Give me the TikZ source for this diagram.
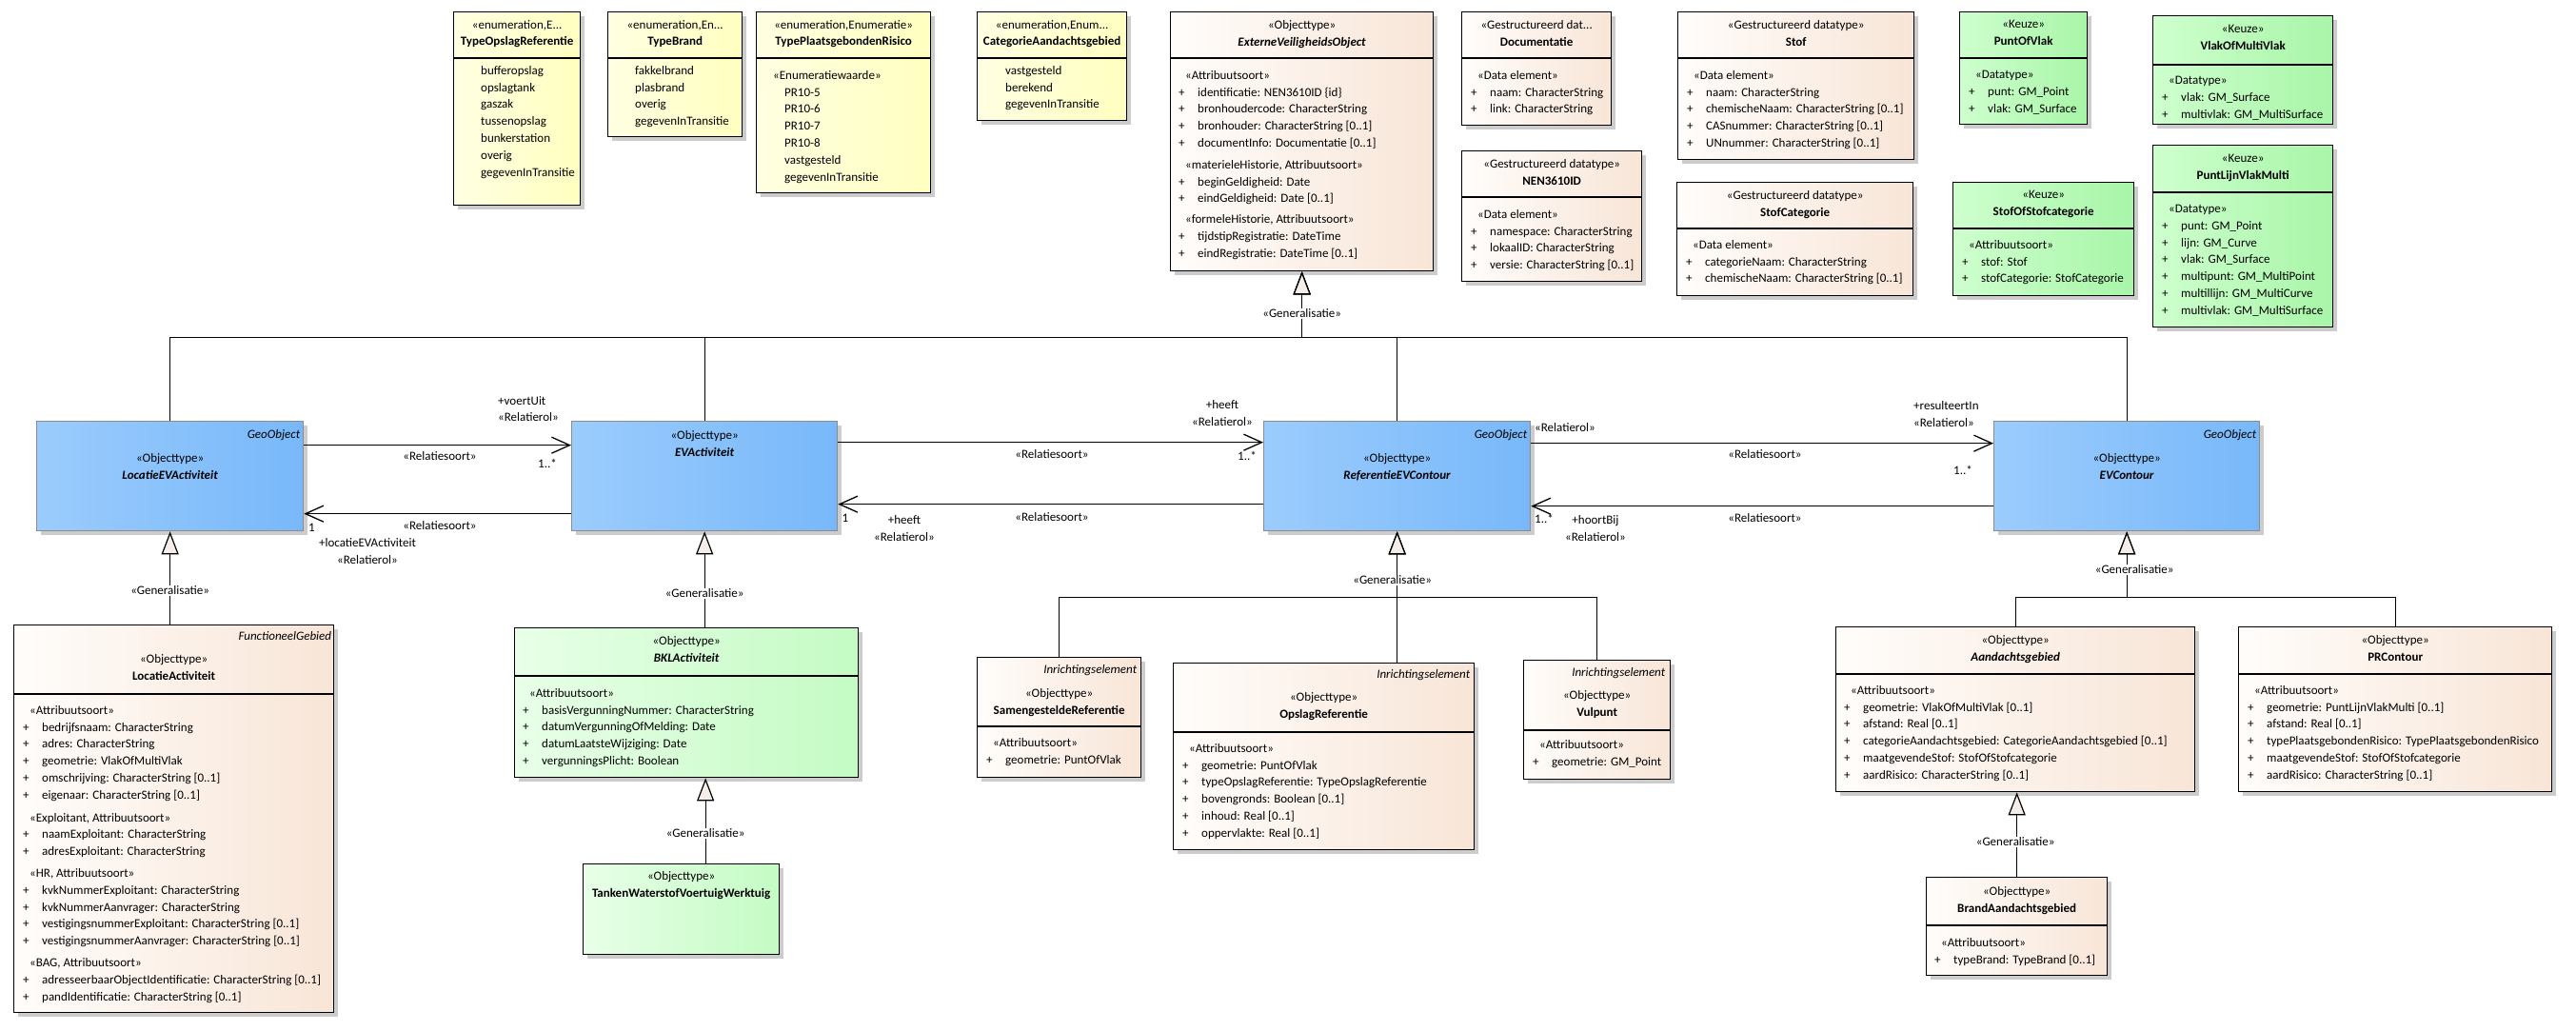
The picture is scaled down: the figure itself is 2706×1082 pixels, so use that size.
\documentclass[tikz,border=0pt]{standalone}
\usepackage{fontspec}
\setmainfont{Carlito}
\usepackage{xcolor}
\usepackage{tikz}
\usetikzlibrary{arrows.meta,positioning,shadows}

\definecolor{enumleft}{RGB}{255,255,226}
\definecolor{enumright}{RGB}{255,255,192}
\definecolor{objleft}{RGB}{255,253,251}
\definecolor{objright}{RGB}{248,229,215}
\definecolor{blueleft}{RGB}{155,204,253}
\definecolor{blueright}{RGB}{120,184,250}
\definecolor{keuzeleft}{RGB}{206,255,206}
\definecolor{keuzeright}{RGB}{168,245,168}
\definecolor{bklleft}{RGB}{232,255,232}
\definecolor{bklright}{RGB}{196,251,196}
\definecolor{genfill}{RGB}{244,237,233}

\newcommand{\umlfont}{\fontsize{13pt}{17.8pt}\selectfont}
\newcommand{\stereo}[1]{\hspace*{7pt}«#1»}
\newcommand{\attr}{\makebox[20pt][l]{+}}

\begin{document}
\begin{tikzpicture}[
    x=1pt, y=-1pt,
    umlbox/.style={rectangle, draw=black, line width=1.3pt, anchor=north west, inner sep=0pt,
        general shadow={fill=black!20, shadow xshift=4pt, shadow yshift=-4pt}},
    boxsize/.style 2 args={minimum width=#1pt, minimum height=#2pt},
    enumbox/.style={umlbox, left color=enumleft, right color=enumright},
    objbox/.style={umlbox, left color=objleft, right color=objright},
    bluebox/.style={umlbox, draw=black!45, left color=blueleft, right color=blueright},
    keuzebox/.style={umlbox, left color=keuzeleft, right color=keuzeright},
    bklbox/.style={umlbox, left color=bklleft, right color=bklright},
    divline/.style={line width=1.3pt},
    txt/.style={font=\umlfont, inner sep=0pt, execute at begin node={\rule{0pt}{11pt}}},
    head/.style={txt, align=center, anchor=north},
    body/.style={txt, align=left, anchor=north west},
    lbl/.style={txt, align=center, anchor=north},
    lbll/.style={txt, align=left, anchor=north west},
    tag/.style={txt, anchor=north east, font=\umlfont\itshape},
    genlbl/.style={font=\umlfont, fill=white, inner sep=1pt},
    rel/.style={-{Straight Barb[length=19pt,width=17pt]}, line width=1.3pt},
    gen/.style={-{Triangle[length=24pt,width=18pt,fill=genfill]}, line width=1.2pt}
]
    \useasboundingbox (0,0) rectangle (2706,1082);

    % enumerations
    \node[enumbox, boxsize={133}{203}] (tor) at (476,12) {};
    \node[head] (torh) at ([yshift=-9pt]tor.north) {«enumeration,E...\\\textbf{TypeOpslagReferentie}};
    \node[body] (torb) at ([shift={(29,57)}]tor.north west) {bufferopslag\\opslagtank\\gaszak\\tussenopslag\\bunkerstation\\overig\\gegevenInTransitie};

    \node[enumbox, boxsize={141}{131}] (tb) at (638,12) {};
    \node[head] (tbh) at ([yshift=-9pt]tb.north) {«enumeration,En...\\\textbf{TypeBrand}};
    \node[body] (tbb) at ([shift={(29,57)}]tb.north west) {fakkelbrand\\plasbrand\\overig\\gegevenInTransitie};

    \node[enumbox, boxsize={183}{190}] (tpr) at (794,12) {};
    \node[head] (tprh) at ([yshift=-9pt]tpr.north) {«enumeration,Enumeratie»\\\textbf{TypePlaatsgebondenRisico}};
    \node[body] (tprb) at ([shift={(18,62)}]tpr.north west) {«Enumeratiewaarde»\\\hspace*{12pt}PR10-5\\\hspace*{12pt}PR10-6\\\hspace*{12pt}PR10-7\\\hspace*{12pt}PR10-8\\\hspace*{12pt}vastgesteld\\\hspace*{12pt}gegevenInTransitie};

    \node[enumbox, boxsize={157}{114}] (cat) at (1026,12) {};
    \node[head] (cath) at ([yshift=-9pt]cat.north) {«enumeration,Enum...\\\textbf{CategorieAandachtsgebied}};
    \node[body] (catb) at ([shift={(30,57)}]cat.north west) {vastgesteld\\berekend\\gegevenInTransitie};

    % ExterneVeiligheidsObject
    \node[objbox, boxsize={276}{272}] (evo) at (1229,12) {};
    \node[head] (evoh) at ([yshift=-9pt]evo.north) {«Objecttype»\\\textbf{\textit{ExterneVeiligheidsObject}}};
    \node[body] (evob) at ([shift={(9,62)}]evo.north west) {\stereo{Attribuutsoort}\\
        \attr identificatie: NEN3610ID \{id\}\\
        \attr bronhoudercode: CharacterString\\
        \attr bronhouder: CharacterString [0..1]\\
        \attr documentInfo: Documentatie [0..1]\\[5pt]
        \stereo{materieleHistorie, Attribuutsoort}\\
        \attr beginGeldigheid: Date\\
        \attr eindGeldigheid: Date [0..1]\\[4pt]
        \stereo{formeleHistorie, Attribuutsoort}\\
        \attr tijdstipRegistratie: DateTime\\
        \attr eindRegistratie: DateTime [0..1]};

    % datatypes
    \node[objbox, boxsize={157}{119}] (doc) at (1535,12) {};
    \node[head] (doch) at ([yshift=-9pt]doc.north) {«Gestructureerd dat...\\\textbf{Documentatie}};
    \node[body] (docb) at ([shift={(10,62)}]doc.north west) {\stereo{Data element}\\\attr naam: CharacterString\\\attr link: CharacterString};

    \node[objbox, boxsize={189}{137}] (nen) at (1535,158) {};
    \node[head] (nenh) at ([yshift=-9pt]nen.north) {«Gestructureerd datatype»\\\textbf{NEN3610ID}};
    \node[body] (nenb) at ([shift={(10,62)}]nen.north west) {\stereo{Data element}\\\attr namespace: CharacterString\\\attr lokaalID: CharacterString\\\attr versie: CharacterString [0..1]};

    \node[objbox, boxsize={248}{155}] (stof) at (1762,12) {};
    \node[head] (stofh) at ([yshift=-9pt]stof.north) {«Gestructureerd datatype»\\\textbf{Stof}};
    \node[body] (stofb) at ([shift={(10,62)}]stof.north west) {\stereo{Data element}\\\attr naam: CharacterString\\\attr chemischeNaam: CharacterString [0..1]\\\attr CASnummer: CharacterString [0..1]\\\attr UNnummer: CharacterString [0..1]};

    \node[objbox, boxsize={248}{119}] (stofcat) at (1761,191) {};
    \node[head] (stofcath) at ([yshift=-9pt]stofcat.north) {«Gestructureerd datatype»\\\textbf{StofCategorie}};
    \node[body] (stofcatb) at ([shift={(10,61)}]stofcat.north west) {\stereo{Data element}\\\attr categorieNaam: CharacterString\\\attr chemischeNaam: CharacterString [0..1]};

    % keuzes
    \node[keuzebox, boxsize={134}{118}] (pov) at (2058,12) {};
    \node[head] (povh) at ([yshift=-9pt]pov.north) {«Keuze»\\\textbf{PuntOfVlak}};
    \node[body] (povb) at ([shift={(10,62)}]pov.north west) {\stereo{Datatype}\\\attr punt: GM\_Point\\\attr vlak: GM\_Surface};

    \node[keuzebox, boxsize={189}{114}] (vomv) at (2261,16) {};
    \node[head] (vomvh) at ([yshift=-10pt]vomv.north) {«Keuze»\\\textbf{VlakOfMultiVlak}};
    \node[body] (vomvb) at ([shift={(10,64)}]vomv.north west) {\stereo{Datatype}\\\attr vlak: GM\_Surface\\\attr multivlak: GM\_MultiSurface};

    \node[keuzebox, boxsize={190}{119}] (sos) at (2051,191) {};
    \node[head] (sosh) at ([yshift=-9pt]sos.north) {«Keuze»\\\textbf{StofOfStofcategorie}};
    \node[body] (sosb) at ([shift={(10,61)}]sos.north west) {\stereo{Attribuutsoort}\\\attr stof: Stof\\\attr stofCategorie: StofCategorie};

    \node[keuzebox, boxsize={189}{191}] (plvm) at (2261,152) {};
    \node[head] (plvmh) at ([yshift=-10pt]plvm.north) {«Keuze»\\\textbf{PuntLijnVlakMulti}};
    \node[body] (plvmb) at ([shift={(10,63)}]plvm.north west) {\stereo{Datatype}\\\attr punt: GM\_Point\\\attr lijn: GM\_Curve\\\attr vlak: GM\_Surface\\\attr multipunt: GM\_MultiPoint\\\attr multillijn: GM\_MultiCurve\\\attr multivlak: GM\_MultiSurface};

    % main row
    \node[bluebox, boxsize={280}{115}] (locev) at (38,442) {};
    \node[tag] (locevt) at ([shift={(-4,7)}]locev.north east) {GeoObject};
    \node[head] (locevh) at ([yshift=-34pt]locev.north) {«Objecttype»\\\textbf{\textit{LocatieEVActiviteit}}};

    \node[bluebox, boxsize={279}{115}] (evact) at (600,442) {};
    \node[head] (evacth) at ([yshift=-10pt]evact.north) {«Objecttype»\\\textbf{\textit{EVActiviteit}}};

    \node[bluebox, boxsize={280}{115}] (refev) at (1327,442) {};
    \node[tag] (refevt) at ([shift={(-4,7)}]refev.north east) {GeoObject};
    \node[head] (refevh) at ([yshift=-34pt]refev.north) {«Objecttype»\\\textbf{\textit{ReferentieEVContour}}};

    \node[bluebox, boxsize={279}{115}] (evc) at (2094,442) {};
    \node[tag] (evct) at ([shift={(-4,7)}]evc.north east) {GeoObject};
    \node[head] (evch) at ([yshift=-34pt]evc.north) {«Objecttype»\\\textbf{\textit{EVContour}}};

    % LocatieActiviteit
    \node[objbox, boxsize={336}{407}] (locact) at (14,656) {};
    \node[tag] (locactt) at ([shift={(-3,5)}]locact.north east) {FunctioneelGebied};
    \node[head] (locacth) at ([yshift=-31pt]locact.north) {«Objecttype»\\\textbf{LocatieActiviteit}};
    \node[body] (locactb) at ([shift={(10,85)}]locact.north west) {\stereo{Attribuutsoort}\\
        \attr bedrijfsnaam: CharacterString\\
        \attr adres: CharacterString\\
        \attr geometrie: VlakOfMultiVlak\\
        \attr omschrijving: CharacterString [0..1]\\
        \attr eigenaar: CharacterString [0..1]\\[6pt]
        \stereo{Exploitant, Attribuutsoort}\\
        \attr naamExploitant: CharacterString\\
        \attr adresExploitant: CharacterString\\[5pt]
        \stereo{HR, Attribuutsoort}\\
        \attr kvkNummerExploitant: CharacterString\\
        \attr kvkNummerAanvrager: CharacterString\\
        \attr vestigingsnummerExploitant: CharacterString [0..1]\\
        \attr vestigingsnummerAanvrager: CharacterString [0..1]\\[5pt]
        \stereo{BAG, Attribuutsoort}\\
        \attr adresseerbaarObjectIdentificatie: CharacterString [0..1]\\
        \attr pandIdentificatie: CharacterString [0..1]};

    % BKL
    \node[bklbox, boxsize={361}{157}] (bkl) at (540,659) {};
    \node[head] (bklh) at ([yshift=-9pt]bkl.north) {«Objecttype»\\\textbf{\textit{BKLActiviteit}}};
    \node[body] (bklb) at ([shift={(9,64)}]bkl.north west) {\stereo{Attribuutsoort}\\\attr basisVergunningNummer: CharacterString\\\attr datumVergunningOfMelding: Date\\\attr datumLaatsteWijziging: Date\\\attr vergunningsPlicht: Boolean};

    \node[bklbox, boxsize={206}{95}] (tanken) at (612,907) {};
    \node[head] (tankenh) at ([yshift=-8pt]tanken.north) {«Objecttype»\\\textbf{TankenWaterstofVoertuigWerktuig}};

    % inrichtingselementen
    \node[objbox, boxsize={172}{126}] (samref) at (1026,690) {};
    \node[tag] (samreft) at ([shift={(-5,6)}]samref.north east) {Inrichtingselement};
    \node[head] (samrefh) at ([yshift=-33pt]samref.north) {«Objecttype»\\\textbf{SamengesteldeReferentie}};
    \node[body] (samrefb) at ([shift={(10,85)}]samref.north west) {\stereo{Attribuutsoort}\\\attr geometrie: PuntOfVlak};

    \node[objbox, boxsize={316}{196}] (opslag) at (1232,696) {};
    \node[tag] (opslagt) at ([shift={(-5,5)}]opslag.north east) {Inrichtingselement};
    \node[head] (opslagh) at ([yshift=-31pt]opslag.north) {«Objecttype»\\\textbf{OpslagReferentie}};
    \node[body] (opslagb) at ([shift={(10,85)}]opslag.north west) {\stereo{Attribuutsoort}\\\attr geometrie: PuntOfVlak\\\attr typeOpslagReferentie: TypeOpslagReferentie\\\attr bovengronds: Boolean [0..1]\\\attr inhoud: Real [0..1]\\\attr oppervlakte: Real [0..1]};

    \node[objbox, boxsize={154}{125}] (vulpunt) at (1600,693) {};
    \node[tag] (vulpuntt) at ([shift={(-6,6)}]vulpunt.north east) {Inrichtingselement};
    \node[head] (vulpunth) at ([yshift=-32pt]vulpunt.north) {«Objecttype»\\\textbf{Vulpunt}};
    \node[body] (vulpuntb) at ([shift={(10,84)}]vulpunt.north west) {\stereo{Attribuutsoort}\\\attr geometrie: GM\_Point};

    % contouren
    \node[objbox, boxsize={377}{173}] (aandacht) at (1928,658) {};
    \node[head] (aandachth) at ([yshift=-9pt]aandacht.north) {«Objecttype»\\\textbf{\textit{Aandachtsgebied}}};
    \node[body] (aandachtb) at ([shift={(9,62)}]aandacht.north west) {\stereo{Attribuutsoort}\\\attr geometrie: VlakOfMultiVlak [0..1]\\\attr afstand: Real [0..1]\\\attr categorieAandachtsgebied: CategorieAandachtsgebied [0..1]\\\attr maatgevendeStof: StofOfStofcategorie\\\attr aardRisico: CharacterString [0..1]};

    \node[objbox, boxsize={329}{173}] (prc) at (2351,658) {};
    \node[head] (prch) at ([yshift=-9pt]prc.north) {«Objecttype»\\\textbf{PRContour}};
    \node[body] (prcb) at ([shift={(10,62)}]prc.north west) {\stereo{Attribuutsoort}\\\attr geometrie: PuntLijnVlakMulti [0..1]\\\attr afstand: Real [0..1]\\\attr typePlaatsgebondenRisico: TypePlaatsgebondenRisico\\\attr maatgevendeStof: StofOfStofcategorie\\\attr aardRisico: CharacterString [0..1]};

    \node[objbox, boxsize={190}{103}] (brand) at (2023,921) {};
    \node[head] (brandh) at ([yshift=-10pt]brand.north) {«Objecttype»\\\textbf{BrandAandachtsgebied}};
    \node[body] (brandb) at ([shift={(9,64)}]brand.north west) {\stereo{Attribuutsoort}\\\attr typeBrand: TypeBrand [0..1]};

    % compartment lines
    \foreach \n/\d in {tor/49, tb/49, tpr/49, cat/49, evo/49, doc/49, nen/49, stof/49, stofcat/49,
        pov/49, vomv/52, sos/49, plvm/50, locact/73, bkl/51, samref/73, opslag/73, vulpunt/74,
        aandacht/50, prc/50, brand/51}
        \draw[divline] ([yshift=-\d]\n.north west) -- ([yshift=-\d]\n.north east);

    % Relaties
    \draw[rel] ([yshift=32.5pt]locev.east) -- ([yshift=32.5pt]evact.west);
    \draw[rel] ([yshift=-39.5pt]evact.west) -- ([yshift=-39.5pt]locev.east);
    \draw[rel] ([yshift=35.5pt]evact.east) -- ([yshift=35.5pt]refev.west);
    \draw[rel] ([yshift=-29.5pt]refev.west) -- ([yshift=-29.5pt]evact.east);
    \draw[rel] ([yshift=34.5pt]refev.east) -- ([yshift=34.5pt]evc.west);
    \draw[rel] ([yshift=-31.5pt]evc.west) -- ([yshift=-31.5pt]refev.east);

    \node[lbll] (a1role) at (523,416) {+voertUit\\«Relatierol»};
    \node[lbl] (a1kind) at (462,472) {«Relatiesoort»};
    \node[lbl] (a1mult) at (575,480) {1..*};
    \node[lbll] (a2mult) at (324,547) {1};
    \node[lbl] (a2kind) at (462,545) {«Relatiesoort»};
    \node[lbl] (a2role) at (386,565) {+locatieEVActiviteit\\«Relatierol»};
    \node[lbl] (a3role) at (1284,420) {+heeft\\«Relatierol»};
    \node[lbl] (a3kind) at (1105,470) {«Relatiesoort»};
    \node[lbl] (a3mult) at (1310,472) {1..*};
    \node[lbl] (a4mult) at (888,537) {1};
    \node[lbl] (a4role) at (950,541) {+heeft\\«Relatierol»};
    \node[lbl] (a4kind) at (1105,536) {«Relatiesoort»};
    \node[lbll] (a5role) at (1612,442) {«Relatierol»};
    \node[lbl] (a5kind) at (1854,470) {«Relatiesoort»};
    \node[lbll] (a5end) at (2010,421) {+resulteertIn\\«Relatierol»};
    \node[lbl] (a5mult) at (2062,487) {1..*};
    \node[lbll] (a6mult) at (1612,538) {1..*};
    \node[lbl] (a6role) at (1676,541) {+hoortBij\\«Relatierol»};
    \node[lbl] (a6kind) at (1854,537) {«Relatiesoort»};

    % Generalisaties
    \coordinate (evobus) at ([yshift=-69pt]evo.south);
    \draw[gen] (locev.north) |- (evobus) -- (evo.south);
    \draw[gen] (evact.north) |- (evobus) -- (evo.south);
    \draw[gen] (refev.north) |- (evobus) -- (evo.south);
    \draw[gen] (evc.north) |- (evobus) -- (evo.south);
    \node[genlbl] (g1) at ([yshift=-44pt]evo.south) {«Generalisatie»};

    \draw[gen] (locev.south |- locact.north) -- (locev.south);
    \node[genlbl] (g2) at ([yshift=-62pt]locev.south) {«Generalisatie»};

    \draw[gen] (evact.south |- bkl.north) -- (evact.south);
    \node[genlbl] (g3) at ([yshift=-65pt]evact.south) {«Generalisatie»};

    \coordinate (bkltip) at ([xshift=20pt]bkl.south);
    \draw[gen] (bkltip |- tanken.north) -- (bkltip);
    \node[genlbl] (g4) at ([yshift=-58pt]bkltip) {«Generalisatie»};

    \coordinate (refbus) at ([yshift=-69pt]refev.south);
    \draw[gen] (samref.north) |- (refbus) -- (refev.south);
    \draw[gen] (refev.south |- opslag.north) -- (refev.south);
    \draw[gen] (vulpunt.north) |- (refbus) -- (refev.south);
    \node[genlbl] (g5) at ([shift={(-5,51)}]refev.south) {«Generalisatie»};

    \coordinate (evcbus) at ([yshift=-69pt]evc.south);
    \draw[gen] (aandacht.north) |- (evcbus) -- (evc.south);
    \draw[gen] (prc.north) |- (evcbus) -- (evc.south);
    \node[genlbl] (g6) at ([shift={(8,40)}]evc.south) {«Generalisatie»};

    \draw[gen] (brand.north) -- (brand.north |- aandacht.south);
    \node[genlbl] (g7) at ([yshift=-52pt]aandacht.south) {«Generalisatie»};
\end{tikzpicture}
\end{document}
